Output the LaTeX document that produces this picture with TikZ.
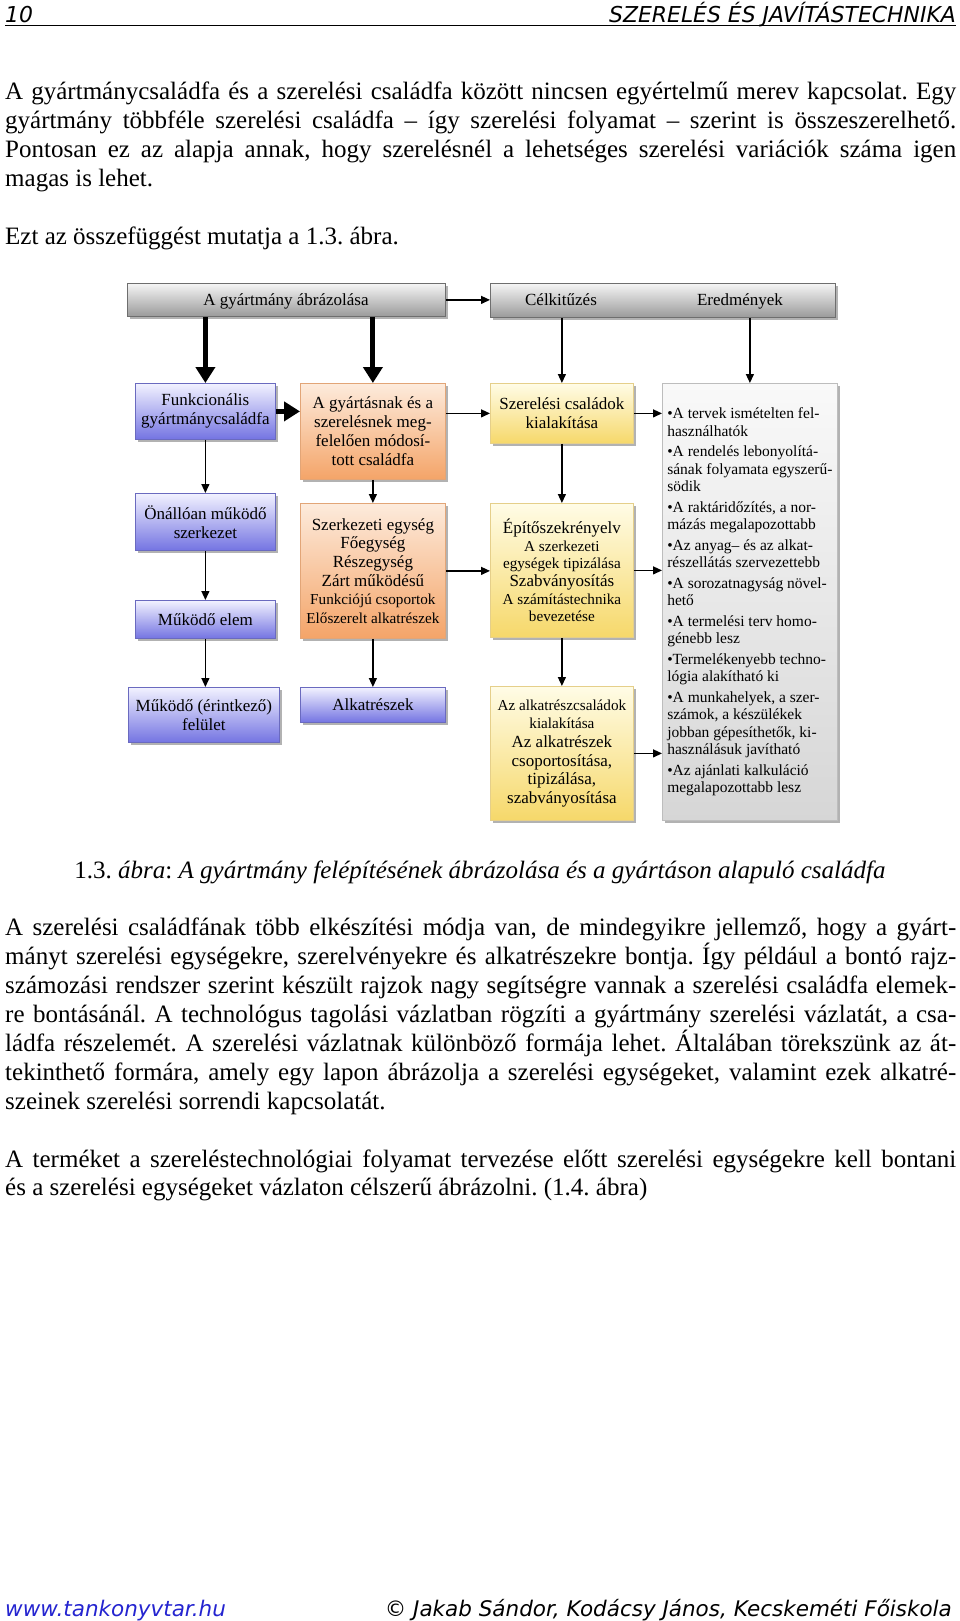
\documentclass[tikz,border=0pt]{standalone}
\usepackage{fontspec}
\setmainfont{Liberation Serif}
\newfontfamily\hdrfont{DejaVu Sans}
\usetikzlibrary{shadows,arrows.meta,calc}
\tolerance=9999
\frenchspacing
\definecolor{blueTop}{HTML}{F2F2FF}
\definecolor{blueBot}{HTML}{7474E2}
\definecolor{blueLine}{HTML}{6A6ABF}
\definecolor{orTop}{HTML}{FDEBDC}
\definecolor{orBot}{HTML}{F4A468}
\definecolor{orLine}{HTML}{E2A577}
\definecolor{yeTop}{HTML}{FFFCE6}
\definecolor{yeBot}{HTML}{F6D86A}
\definecolor{yeLine}{HTML}{E5CF8A}
\definecolor{grTop}{HTML}{F5F5F5}
\definecolor{grBot}{HTML}{9A9A9A}
\definecolor{grLine}{HTML}{6E6E6E}
\definecolor{resTop}{HTML}{F9F9F9}
\definecolor{resBot}{HTML}{D6D6D6}
\definecolor{resLine}{HTML}{BDBDBD}
\definecolor{urlblue}{HTML}{2424D0}
\newcommand\smtxt{\fontsize{15.2}{17}\selectfont}
\newcommand\bgtxt{\fontsize{17}{19}\selectfont}
\tikzset{
  hdr/.style={inner sep=0pt, font=\hdrfont\itshape\fontsize{21.9}{24}\selectfont},
  ftr/.style={inner sep=0pt, font=\hdrfont\itshape\fontsize{21.5}{24}\selectfont},
  para/.style={anchor=base west, inner sep=0pt, text width=951pt, align=justify,
    font=\fontsize{25}{28.93}\selectfont},
  capt/.style={anchor=base, inner sep=0pt, font=\fontsize{25}{28.93}\selectfont},
  box/.style={draw, line width=0.8pt, anchor=north west, inner sep=2pt, align=center,
    font=\fontsize{17}{19}\selectfont,
    drop shadow={shadow xshift=3pt, shadow yshift=-3pt, opacity=0.5, fill=black!60}},
  bluebox/.style={box, draw=blueLine, top color=blueTop, bottom color=blueBot},
  orbox/.style={box, draw=orLine, top color=orTop, bottom color=orBot},
  yebox/.style={box, draw=yeLine, top color=yeTop, bottom color=yeBot},
  graybar/.style={box, draw=grLine, top color=grTop, bottom color=grBot},
  resbox/.style={box, draw=resLine, top color=resTop, bottom color=resBot, align=left,
    inner xsep=3pt, font=\fontsize{15.5}{17.5}\selectfont},
  lbl/.style={anchor=base, inner sep=0pt, font=\fontsize{17}{19}\selectfont},
  thinarr/.style={-{Triangle[length=9pt,width=8pt]}, line width=1.3pt},
  thickarr/.style={-{Triangle[length=16pt,width=19pt]}, line width=5pt}
}
\begin{document}
\begin{tikzpicture}[x=1pt,y=-1pt]
\fill[white] (0,0) rectangle (960,1621);
\useasboundingbox (0,0) rectangle (960,1621);

% header
\node[hdr, anchor=base west] (pnum) at (5,22.5) {10};
\node[hdr, anchor=base east] (ptitle) at (956,22.5) {SZERELÉS ÉS JAVÍTÁSTECHNIKA};
\draw[line width=0.8pt] (5,25.5) -- (956,25.5);

% text above
\node[para] (p1) at (5,100) {A gyártmánycsaládfa és a szerelési családfa között nincsen egyértelmű merev kapcsolat. Egy\linebreak
gyártmány többféle szerelési családfa – így szerelési folyamat – szerint is összeszerelhető.\linebreak
Pontosan ez az alapja annak, hogy szerelésnél a lehetséges szerelési variációk száma igen\linebreak
magas is lehet.};
\node[para] (p2) at (5,245) {Ezt az összefüggést mutatja a 1.3. ábra.};

% diagram
\node[graybar, minimum width=318pt, minimum height=33pt] (bar1) at (127,283) {};
\node[lbl] (barlbl) at (286,305) {A gyártmány ábrázolása};
\node[graybar, minimum width=345pt, minimum height=34pt] (bar2) at (490,283) {};
\node[lbl] (cel) at (561,305) {Célkitűzés};
\node[lbl] (ered) at (740,305) {Eredmények};

\node[bluebox, minimum width=140pt, minimum height=56pt] (fun) at (135,383) {Funkcionális\\gyártmánycsaládfa};
\node[orbox, minimum width=145pt, minimum height=96pt] (mod) at (300,383) {A gyártásnak és a\\szerelésnek meg-\\felelően módosí-\\tott családfa};
\node[yebox, minimum width=143pt, minimum height=60pt] (szc) at (490,383) {Szerelési családok\\kialakítása};
\node[resbox, minimum width=175pt, minimum height=437pt] (res) at (662,383) {%
•A tervek ismételten fel-\\használhatók\\[3pt]
•A rendelés lebonyolítá-\\sának folyamata egyszerű-\\södik\\[3pt]
•A raktáridőzítés, a nor-\\mázás megalapozottabb\\[3pt]
•Az anyag– és az alkat-\\részellátás szervezettebb\\[3pt]
•A sorozatnagyság növel-\\hető\\[3pt]
•A termelési terv homo-\\génebb lesz\\[3pt]
•Termelékenyebb techno-\\lógia alakítható ki\\[3pt]
•A munkahelyek, a szer-\\számok, a készülékek\\jobban gépesíthetők, ki-\\használásuk javítható\\[3pt]
•Az ajánlati kalkuláció\\megalapozottabb lesz};

\node[bluebox, minimum width=140pt, minimum height=57pt] (onall) at (135,493) {Önállóan működő\\szerkezet};
\node[orbox, minimum width=145pt, minimum height=135pt, font=\fontsize{17}{18.6}\selectfont] (szeg) at (300,503) {Szerkezeti egység\\Főegység\\Részegység\\Zárt működésű\\\smtxt Funkciójú csoportok\\\smtxt Előszerelt alkatrészek};
\node[yebox, minimum width=143pt, minimum height=134pt, font=\fontsize{17}{17.6}\selectfont] (epit) at (490,503) {\bgtxt Építőszekrényelv\\\smtxt A szerkezeti\\\smtxt egységek tipizálása\\\bgtxt Szabványosítás\\\smtxt A számítástechnika\\\smtxt bevezetése};
\node[bluebox, minimum width=140pt, minimum height=38pt] (mel) at (135,600) {Működő elem};
\node[bluebox, minimum width=151pt, minimum height=55pt] (felu) at (128,687) {Működő (érintkező)\\felület};
\node[bluebox, minimum width=145pt, minimum height=35pt] (alk) at (300,687) {Alkatrészek};
\node[yebox, minimum width=143pt, minimum height=134pt, font=\fontsize{17}{18.6}\selectfont] (acs) at (490,686) {\smtxt Az alkatrészcsaládok\\\smtxt kialakítása\\\bgtxt Az alkatrészek\\\bgtxt csoportosítása,\\\bgtxt tipizálása,\\\bgtxt szabványosítása};

% connectors
\draw[thinarr] (bar1.east) -- (bar1.east -| bar2.west);
\draw[thickarr] (bar1.south -| fun.north) -- (fun.north);
\draw[thickarr] (bar1.south -| mod.north) -- (mod.north);
\draw[thinarr] (bar2.south -| szc.north) -- (szc.north);
\draw[thinarr] (bar2.south -| res.north) -- (res.north);
\draw[thickarr] (fun.east) -- (fun.east -| mod.west);
\draw[thinarr] (szc.west -| mod.east) -- (szc.west);
\draw[thinarr] (szc.east) -- (szc.east -| res.west);
\draw[thinarr] (fun.south) -- (onall.north);
\draw[thinarr] (onall.south) -- (mel.north);
\draw[thinarr] (mel.south) -- (mel.south |- felu.north);
\draw[thinarr] (mod.south) -- (szeg.north);
\draw[thinarr] (szeg.south) -- (alk.north);
\draw[thinarr] (szc.south) -- (epit.north);
\draw[thinarr] (epit.south) -- (acs.north);
\draw[thinarr] (szeg.east) -- (szeg.east -| epit.west);
\draw[thinarr] (epit.east) -- (epit.east -| res.west);
\draw[thinarr] (acs.east) -- (acs.east -| res.west);

% caption
\node[capt] (cap) at (480,878.5) {1.3. \textit{ábra}: \textit{A gyártmány felépítésének ábrázolása és a gyártáson alapuló családfa}};

% text below
\node[para] (p3) at (5,935.5) {A szerelési családfának több elkészítési módja van, de mindegyikre jellemző, hogy a gyárt-\linebreak
mányt szerelési egységekre, szerelvényekre és alkatrészekre bontja. Így például a bontó rajz-\linebreak
számozási rendszer szerint készült rajzok nagy segítségre vannak a szerelési családfa elemek-\linebreak
re bontásánál. A technológus tagolási vázlatban rögzíti a gyártmány szerelési vázlatát, a csa-\linebreak
ládfa részelemét. A szerelési vázlatnak különböző formája lehet. Általában törekszünk az át-\linebreak
tekinthető formára, amely egy lapon ábrázolja a szerelési egységeket, valamint ezek alkatré-\linebreak
szeinek szerelési sorrendi kapcsolatát.};
\node[para] (p4) at (5,1167) {A terméket a szereléstechnológiai folyamat tervezése előtt szerelési egységekre kell bontani\linebreak
és a szerelési egységeket vázlaton célszerű ábrázolni. (1.4. ábra)};

% footer
\node[ftr, anchor=base west, text=urlblue] (url) at (5,1616) {\underline{www.tankonyvtar.hu}};
\node[ftr, anchor=base east] (copy) at (952,1616) {© Jakab Sándor, Kodácsy János, Kecskeméti Főiskola};
\end{tikzpicture}
\end{document}
